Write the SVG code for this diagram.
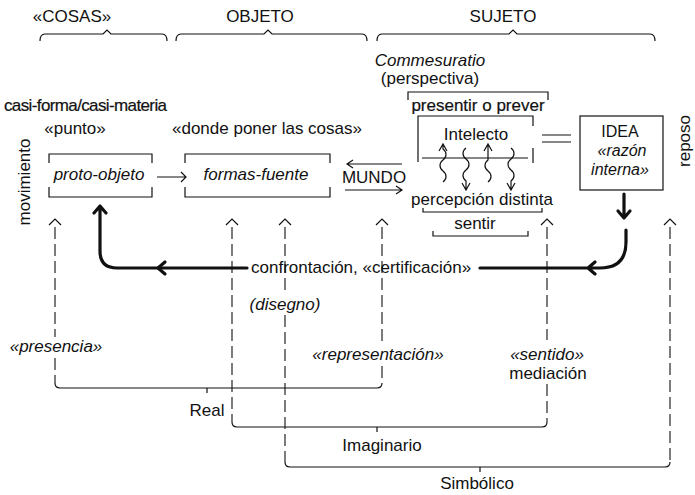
<svg xmlns="http://www.w3.org/2000/svg" width="695" height="495" viewBox="0 0 695 495">
<style>
text{font-family:"Liberation Sans",Arial,sans-serif;font-size:17px;fill:#111}
.m{text-anchor:middle}
.i{font-style:italic}
.s{font-size:16px}
.b{stroke:#111;stroke-width:0.2}
.ln{fill:none;stroke:#111;stroke-width:1.2}
.th{fill:none;stroke:#111;stroke-width:3.2;stroke-linecap:round;stroke-linejoin:round}
.da{fill:none;stroke:#111;stroke-width:1.1;stroke-dasharray:12 5}
</style>
<rect width="695" height="495" fill="#fff"/>
<g id="top-brackets">
<path class="ln" d="M40,41 Q40,34 45,34 L103,34 L107,30 L111,34 L162,34 Q167,34 167,41"/>
<path class="ln" d="M176,41 Q176,34 181,34 L264,34 L268,30 L272,34 L362,34 Q367,34 367,41"/>
<path class="ln" d="M377,41 Q377,34 382,34 L509,34 L513,30 L517,34 L650,34 Q655,34 655,41"/>
<text class="m" x="72" y="22">«COSAS»</text>
<text class="m" x="260" y="22">OBJETO</text>
<text class="m" x="503" y="22">SUJETO</text>
</g>
<g id="commesuratio">
<text class="m i" x="430" y="66">Commesuratio</text>
<text class="m" x="430" y="84">(perspectiva)</text>
</g>
<g id="side-labels">
<text class="m" transform="translate(30,182) rotate(-90)">movimiento</text>
<text class="m" transform="translate(690,141) rotate(-90)">reposo</text>
</g>
<g id="proto-objeto">
<text class="b" x="4" y="111" textLength="163">casi-forma/casi-materia</text>
<text class="m" x="75" y="134">«punto»</text>
<path class="ln" d="M49,163 V154 H152 V163 M49,187 V197 H152 V187"/>
<text class="m i" x="99" y="180">proto-objeto</text>
</g>
<g id="formas-fuente">
<text x="172" y="134">«donde poner las cosas»</text>
<path class="ln" d="M185,163 V154 H330 V163 M185,187 V197 H330 V187"/>
<text class="m i" x="256" y="180">formas-fuente</text>
</g>
<g id="mundo">
<text class="m" x="374" y="183">MUNDO</text>
</g>
<g id="intelecto">
<path class="ln" d="M408,100 V92 H548 V100"/>
<text class="m b" x="478" y="111">presentir o prever</text>
<path class="ln" d="M418,162 V116 H533 V126 M533,148 V163"/>
<text class="m" x="476" y="140">Intelecto</text>
<path class="ln" d="M422,158 H528"/>
<path class="ln" d="M443,182 c4,-3 4,-8 0,-11 s-4,-8 0,-11 s4,-8 0,-11 L443,145 M439,151 L443,144 L447,151"/>
<path class="ln" d="M466,148 c-4,3 -4,8 0,11 s4,8 0,11 s-4,8 0,11 L466,189 M462,183 L466,190 L470,183"/>
<path class="ln" d="M488,182 c4,-3 4,-8 0,-11 s-4,-8 0,-11 L488,145 M484,151 L488,144 L492,151"/>
<path class="ln" d="M511,148 c4,3 4,8 0,11 s-4,8 0,11 s4,8 0,11 L511,189 M507,183 L511,190 L515,183"/>
<text class="m" x="482" y="205">percepción distinta</text>
<path class="ln" d="M423,208 V212 H542 V208"/>
<text class="m" x="475" y="229">sentir</text>
<path class="ln" d="M433,231 V236 H528 V231"/>
</g>
<g id="idea">
<rect class="ln" x="580" y="116" width="83" height="74"/>
<text class="m s" x="620" y="137">IDEA</text>
<text class="m i s" x="622" y="156">«razón</text>
<text class="m i s" x="620" y="175">interna»</text>
</g>
<g id="confrontacion">
<text x="251" y="273">confrontación, «certificación»</text>
</g>
<g id="labels">
<text class="m i" x="285" y="310">(disegno)</text>
<text class="m i" x="56" y="352">«presencia»</text>
<text class="m i" x="378" y="360">«representación»</text>
<text class="m i" x="547" y="360">«sentido»</text>
<text class="m" x="548" y="379">mediación</text>
</g>
<g id="bottom-brackets">
<path class="ln" d="M55,383 Q55,388 60,388 L377,388 Q382,388 382,383 M207,388 V393"/>
<path class="ln" d="M232,422 Q232,427 237,427 L542,427 Q547,427 547,422 M377,427 V432"/>
<path class="ln" d="M285,462 Q285,467 290,467 L665,467 Q670,467 670,462 M480,467 V472"/>
<text class="m" x="207" y="416">Real</text>
<text class="m" x="382" y="451">Imaginario</text>
<text class="m" x="477" y="489">Simbólico</text>
</g>
<g id="connectors">
<path class="ln" d="M157,177 H186 M181,172 L186,177 L181,182"/>
<path class="ln" d="M347,164 H402 M353,160 L347,164 L353,168"/>
<path class="ln" d="M345,190 H402 M396,186 L402,190 L396,194"/>
<path class="ln" d="M542,135 H571 M542,142 H571"/>
<path class="th" d="M247,268 H117 Q100,268 100,251 V207 M94,213 L100,206 L106,213"/>
<path class="th" d="M165,262 L158,268 L165,274"/>
<path class="th" d="M624,194 V216 M618,211 L624,218 L630,211"/>
<path class="th" d="M480,268 H600 Q626,268 626,242 V230 M595,262 L588,268 L595,274"/>
<path class="ln" d="M49,225 L55,219 L61,225"/>
<path class="da" d="M55,227 V337 M55,358 V383"/>
<path class="ln" d="M226,225 L232,219 L238,225"/>
<path class="da" d="M232,227 V422"/>
<path class="ln" d="M279,225 L285,219 L291,225"/>
<path class="da" d="M285,227 V294 M285,315 V462"/>
<path class="ln" d="M376,225 L382,219 L388,225"/>
<path class="da" d="M382,227 V344 M382,366 V383"/>
<path class="ln" d="M541,225 L547,219 L553,225"/>
<path class="da" d="M547,227 V340 M547,384 V422"/>
<path class="ln" d="M664,225 L670,219 L676,225"/>
<path class="da" d="M670,227 V462"/>
</g>
</svg>
